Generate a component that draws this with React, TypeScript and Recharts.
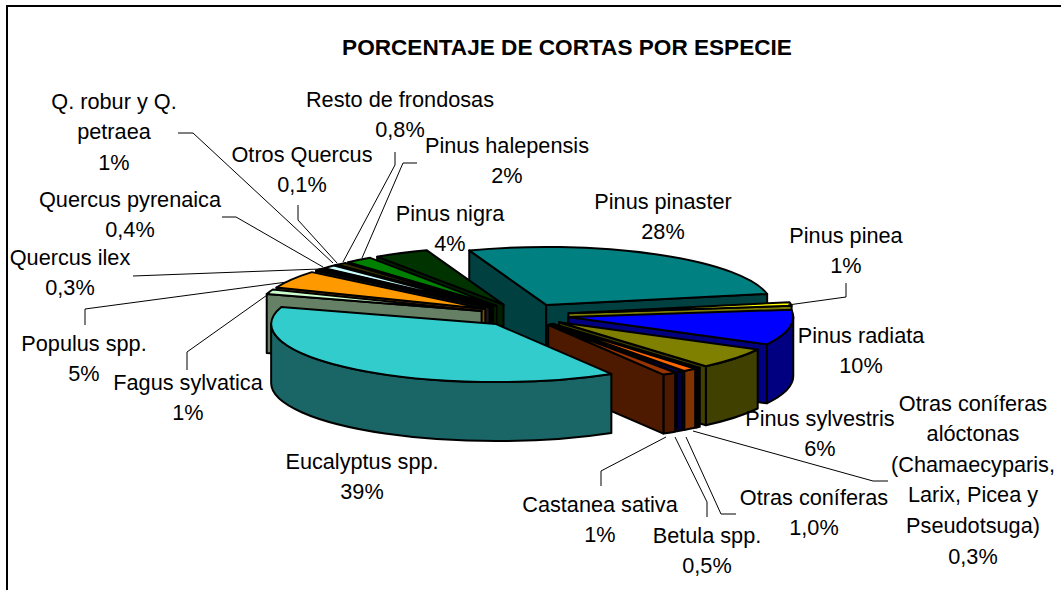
import React from 'react';
import { PieChart, Pie } from 'recharts';

const categories = [
  'Pinus pinaster', 'Pinus pinea', 'Pinus radiata', 'Pinus sylvestris',
  'Otras coníferas alóctonas (Chamaecyparis, Larix, Picea y Pseudotsuga)',
  'Otras coníferas', 'Betula spp.', 'Castanea sativa', 'Eucalyptus spp.',
  'Fagus sylvatica', 'Populus spp.', 'Quercus ilex', 'Quercus pyrenaica',
  'Q. robur y Q. petraea', 'Otros Quercus', 'Resto de frondosas',
  'Pinus halepensis', 'Pinus nigra',
];
const values = [28, 1, 10, 6, 0.3, 1.0, 0.5, 1, 39, 1.3, 5, 0.3, 0.4, 1, 0.1, 0.8, 2, 4];
const valueLabels = ['28%', '1%', '10%', '6%', '0,3%', '1,0%', '0,5%', '1%', '39%', '1%', '5%', '0,3%', '0,4%', '1%', '0,1%', '0,8%', '2%', '4%'];
const nameLines = [
  ['Pinus pinaster'], ['Pinus pinea'], ['Pinus radiata'], ['Pinus sylvestris'],
  ['Otras coníferas', 'alóctonas', '(Chamaecyparis,', 'Larix, Picea y', 'Pseudotsuga)'],
  ['Otras coníferas'], ['Betula spp.'], ['Castanea sativa'], ['Eucalyptus spp.'],
  ['Fagus sylvatica'], ['Populus spp.'], ['Quercus ilex'], ['Quercus pyrenaica'],
  ['Q. robur y Q.', 'petraea'], ['Otros Quercus'], ['Resto de frondosas'],
  ['Pinus halepensis'], ['Pinus nigra'],
];
const topColors = ['#008080', '#FFFF00', '#0000FF', '#808000', '#333333', '#FF6600', '#000080', '#993300', '#33CCCC', '#CCFFCC', '#FF9900', '#333333', '#969696', '#CCFFFF', '#000000', '#333300', '#008000', '#003300'];
const wallColors = ['#004040', '#808000', '#000080', '#404000', '#000000', '#803300', '#000040', '#4D1A00', '#1A6666', '#668066', '#804D00', '#1A1A1A', '#4B4B4B', '#668080', '#000000', '#1A1A00', '#004000', '#002000'];

const paintOrder = [0, 17, 16, 15, 14, 13, 12, 11, 10, 9, 1, 2, 3, 4, 5, 6, 7, 8];

// label layout: centre x, first line centre y, leader polyline
const labelLayout: { x: number; y: number; leader: number[][] }[] = [
  { x: 663, y: 201, leader: [] },
  { x: 846, y: 235, leader: [[846, 283], [846, 297], [788, 305]] },
  { x: 861, y: 335, leader: [] },
  { x: 820, y: 418, leader: [] },
  { x: 973, y: 403, leader: [[888, 481], [873, 481], [693, 431]] },
  { x: 814, y: 497, leader: [[736, 514], [721, 514], [686, 437]] },
  { x: 707, y: 535, leader: [[707, 517], [707, 502], [675, 437]] },
  { x: 600, y: 504, leader: [[601, 486], [601, 471], [666, 437]] },
  { x: 362, y: 461, leader: [] },
  { x: 188, y: 382, leader: [[187, 370], [187, 352], [270, 293]] },
  { x: 84, y: 343, leader: [[85, 325], [85, 309], [287, 282]] },
  { x: 70, y: 257, leader: [[133, 276], [320, 269]] },
  { x: 130, y: 199, leader: [[222, 217], [236, 217], [323, 267]] },
  { x: 114, y: 101, leader: [[178, 133], [193, 133], [333, 263]] },
  { x: 302, y: 154, leader: [[298, 205], [298, 220], [337, 263]] },
  { x: 400, y: 99, leader: [[395, 152], [395, 165], [343, 262]] },
  { x: 507, y: 145, leader: [[417, 163], [403, 163], [362, 258]] },
  { x: 450, y: 213, leader: [] },
];

const chartData = categories.map((name, i) => ({ name, value: values[i] }));

const CX = 524;
const CY = 315;
const RX = 225;
const TILT = 58 / 225;
const DEPTH = 59;
const EXPLODE = 0.2;
const LINE_STEP = 30.6;
const FONT = '"Liberation Sans", Arial, sans-serif';

const rad = (d: number) => (d * Math.PI) / 180;

function Slice3D(props: any, target: number) {
  if (props.index !== target) return <g />;
  const { cx, cy, outerRadius, startAngle, endAngle } = props;
  const rx = outerRadius;
  const ry = outerRadius * TILT;
  const s = Math.max(startAngle, endAngle);
  const e = Math.min(startAngle, endAngle);
  const mid = (s + e) / 2;
  const ax = cx + EXPLODE * rx * Math.cos(rad(mid));
  const ay = cy - EXPLODE * ry * Math.sin(rad(mid));
  const pt = (a: number, dy = 0) => [ax + rx * Math.cos(rad(a)), ay - ry * Math.sin(rad(a)) + dy];
  const stroke = { stroke: '#000', strokeWidth: 2, strokeLinejoin: 'round' as const };
  const [sx, sy] = pt(s);
  const [ex, ey] = pt(e);
  const large = s - e > 180 ? 1 : 0;
  const top = `M${ax},${ay} L${sx},${sy} A${rx},${ry} 0 ${large} 1 ${ex},${ey} Z`;
  const fs = Math.min(s, 0);
  const fe = Math.max(e, -180);
  let arcWall = '';
  if (fs > fe) {
    const [x1, y1] = pt(fs);
    const [x2, y2] = pt(fe);
    arcWall = `M${x1},${y1} A${rx},${ry} 0 0 1 ${x2},${y2} L${x2},${y2 + DEPTH} A${rx},${ry} 0 0 0 ${x1},${y1 + DEPTH} Z`;
  }
  const wall = (x: number, y: number) =>
    `M${ax},${ay} L${x},${y} L${x},${y + DEPTH} L${ax},${ay + DEPTH} Z`;
  const wc = wallColors[target];
  return (
    <g>
      {arcWall && <path d={arcWall} fill={wc} {...stroke} />}
      {Math.cos(rad(s)) < 0 && <path d={wall(sx, sy)} fill={wc} {...stroke} />}
      {Math.cos(rad(e)) > 0 && <path d={wall(ex, ey)} fill={wc} {...stroke} />}
      <path d={top} fill={topColors[target]} {...stroke} />
    </g>
  );
}

function renderLabel(props: any) {
  const i = props.index;
  const l = labelLayout[i];
  const lines = [...nameLines[i], valueLabels[i]];
  return (
    <g key={i}>
      {l.leader.length > 0 && (
        <polyline
          points={l.leader.map((p) => p.join(',')).join(' ')}
          fill="none"
          stroke="#000"
          strokeWidth={1}
        />
      )}
      {lines.map((t, k) => (
        <text
          key={k}
          x={l.x}
          y={l.y + k * LINE_STEP}
          textAnchor="middle"
          dominantBaseline="central"
          fontFamily={FONT}
          fontSize={21.7}
          fill="#000"
        >
          {t}
        </text>
      ))}
    </g>
  );
}

export default function App() {
  return (
    <div style={{ position: 'absolute', left: 0, top: 0, width: 1061, height: 590, overflow: 'hidden', background: '#fff' }}>
      <div style={{ position: 'absolute', left: 6, top: 5, width: 1055, height: 2, background: '#000' }} />
      <div style={{ position: 'absolute', left: 6, top: 5, width: 2, height: 585, background: '#000' }} />
      <div style={{ position: 'absolute', left: 0, top: 0 }}>
        <PieChart width={1061} height={590} margin={{ top: 0, right: 0, bottom: 0, left: 0 }}>
          <text x={567} y={47} textAnchor="middle" dominantBaseline="central" fontFamily={FONT} fontSize={22.6} fontWeight="bold" fill="#000">
            PORCENTAJE DE CORTAS POR ESPECIE
          </text>
          {paintOrder.map((t) => (
            <Pie
              key={t}
              data={chartData}
              dataKey="value"
              nameKey="name"
              cx={CX}
              cy={CY}
              innerRadius={0}
              outerRadius={RX}
              startAngle={110}
              endAngle={-250}
              paddingAngle={0}
              stroke="none"
              isAnimationActive={false}
              shape={(p: any) => Slice3D(p, t)}
            />
          ))}
          <Pie
            data={chartData}
            dataKey="value"
            nameKey="name"
            cx={CX}
            cy={CY}
            innerRadius={0}
            outerRadius={RX}
            startAngle={110}
            endAngle={-250}
            fill="none"
            stroke="none"
            isAnimationActive={false}
            shape={() => <g />}
            label={renderLabel}
            labelLine={false}
          />
        </PieChart>
      </div>
    </div>
  );
}
